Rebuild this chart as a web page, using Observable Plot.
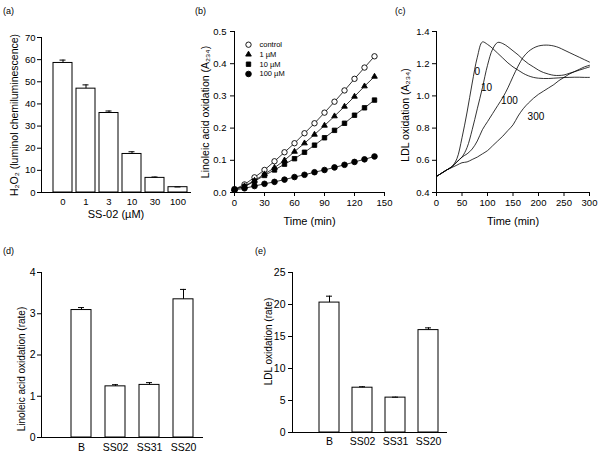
<!DOCTYPE html>
<html><head><meta charset="utf-8">
<script src="https://cdn.jsdelivr.net/npm/d3@7"></script>
<script src="https://cdn.jsdelivr.net/npm/@observablehq/plot@0.6"></script>
<style>
html,body{margin:0;padding:0;background:#fff;}
#fig{position:relative;width:600px;height:454px;overflow:hidden;background:#fff;font-family:"Liberation Sans",Arial,Helvetica,sans-serif;color:#000;}
.tag{position:absolute;font-size:9px;line-height:10px;}
</style></head><body><div id="fig"></div>
<script>
// ---------- (a) H2O2 vs SS-02 ----------
const h2o2Conc = ["0","1","3","10","30","100"];
const h2o2Mean = [58.5, 46.9, 35.9, 17.4, 6.6, 2.4];
const h2o2Sem  = [1.3, 1.7, 0.9, 1.0, 0.4, 0.1];
const h2o2Ticks = [0,10,20,30,40,50,60,70];

// ---------- (b) linoleic acid oxidation time course ----------
const linTime    = [0,10,20,30,40,50,60,70,80,90,100,110,120,130,140];
const linControl = [0.010,0.025,0.047,0.070,0.097,0.125,0.153,0.184,0.215,0.248,0.282,0.317,0.353,0.388,0.423];
const lin1uM     = [0.010,0.020,0.037,0.057,0.077,0.100,0.127,0.153,0.180,0.208,0.237,0.267,0.298,0.330,0.360];
const lin10uM    = [0.010,0.018,0.035,0.053,0.070,0.088,0.105,0.125,0.147,0.170,0.193,0.215,0.240,0.263,0.287];
const lin100uM   = [0.008,0.013,0.020,0.027,0.033,0.040,0.048,0.055,0.063,0.070,0.078,0.086,0.095,0.103,0.112];
const linSeries  = ["control","1 \u00b5M","10 \u00b5M","100 \u00b5M"];
const linXTicks  = [0,30,60,90,120,150];
const linYTicks  = [0,0.1,0.2,0.3,0.4,0.5];

// ---------- (c) LDL oxidation time course ----------
const ldlTime = [0,10,20,30,40,50,60,70,80,90,100,110,120,130,140,150,160,170,180,190,200,210,220,230,240,250,260,270,280,290,300];
const ldl0   = [0.50,0.52,0.54,0.56,0.61,0.74,0.90,1.08,1.24,1.335,1.32,1.295,1.265,1.235,1.205,1.18,1.16,1.14,1.125,1.115,1.11,1.108,1.108,1.11,1.112,1.114,1.115,1.116,1.116,1.115,1.115];
const ldl10  = [0.50,0.52,0.54,0.56,0.59,0.62,0.68,0.79,0.92,1.05,1.19,1.29,1.332,1.325,1.305,1.28,1.255,1.225,1.20,1.18,1.16,1.145,1.135,1.128,1.127,1.13,1.14,1.15,1.16,1.17,1.18];
const ldl100 = [0.50,0.52,0.54,0.56,0.59,0.62,0.64,0.67,0.72,0.79,0.84,0.89,0.94,0.99,1.05,1.12,1.185,1.24,1.275,1.297,1.31,1.315,1.315,1.31,1.30,1.285,1.27,1.255,1.24,1.225,1.21];
const ldl300 = [0.50,0.52,0.54,0.555,0.57,0.585,0.59,0.605,0.62,0.64,0.66,0.69,0.72,0.75,0.785,0.82,0.875,0.92,0.955,0.985,1.01,1.03,1.05,1.07,1.095,1.115,1.135,1.15,1.165,1.18,1.19];
const ldlLabels = ["0","10","100","300"];
const ldlLabelTime = [80, 98, 143, 195];
const ldlLabelValue = [1.148, 1.051, 0.968, 0.869];
const ldlXTicks = [0,50,100,150,200,250,300];
const ldlYTicks = [0.4,0.6,0.8,1.0,1.2,1.4];

// ---------- (d) / (e) oxidation rates ----------
const rateCompounds = ["B","SS02","SS31","SS20"];
const linRateMean = [3.09, 1.24, 1.275, 3.35];
const linRateSem  = [0.06, 0.04, 0.055, 0.24];
const linRateTicks = [0,1,2,3,4];
const ldlRateMean = [20.3, 7.0, 5.45, 16.0];
const ldlRateSem  = [1.0, 0.15, 0.07, 0.35];
const ldlRateTicks = [0,5,10,15,20,25];

const FONT = '"Liberation Sans", Arial, Helvetica, sans-serif';
const fig = document.getElementById("fig");
function place(el, left, top){ el.style.position="absolute"; el.style.left=left+"px"; el.style.top=top+"px"; fig.appendChild(el); }
function tag(text, left, top){ const d=document.createElement("div"); d.className="tag"; d.textContent=text; d.style.left=left+"px"; d.style.top=top+"px"; fig.appendChild(d); }
const baseStyle = {fontFamily: FONT, fontSize: "9.5px", color: "black", background: "transparent", overflow: "visible"};

function barPanel(o){
  const rows = o.cats.map((c,i)=>({cat:c, mean:o.mean[i], sem:o.sem[i]}));
  const marks = [
    Plot.barY(rows, {x:"cat", y:"mean", fill:"white", stroke:"black", strokeWidth:1}),
    Plot.ruleX(rows, {x:"cat", y1:"mean", y2:d=>d.mean+d.sem, stroke:"black", strokeWidth:1}),
    Plot.tickY(rows, {x:"cat", y:d=>d.mean+d.sem, insetLeft:o.capInset, insetRight:o.capInset, stroke:"black", strokeWidth:1}),
    Plot.frame({anchor:"left", stroke:"black"}),
    Plot.frame({anchor:"bottom", stroke:"black"}),
    Plot.axisY({ticks:o.yTicks, tickFormat:"d", tickSize:4, tickPadding:o.yPad, label:null, fontSize:o.tickFont}),
    Plot.axisX({tickSize:0, tickPadding:o.xPad, label:null, fontSize:o.tickFont}),
    Plot.text([o.yLabel], {frameAnchor:"left", dx:o.yLabelDx, dy:o.yLabelDy||0, rotate:-90, textAnchor:"middle", lineAnchor:"middle", fontSize:o.labelFont})
  ];
  if (o.xLabel) marks.push(Plot.text([o.xLabel], {frameAnchor:"bottom", dy:o.xLabelDy, textAnchor:"middle", lineAnchor:"middle", fontSize:11}));
  return Plot.plot({
    width:o.width, height:o.height,
    marginLeft:o.ml, marginRight:o.mr, marginTop:o.mt, marginBottom:o.mb,
    style: baseStyle,
    x:{type:"band", domain:o.cats, range:o.xRange, paddingInner:o.pi, paddingOuter:o.pi/2, label:null},
    y:{domain:o.yDomain, label:null},
    marks
  });
}

// (a)
place(barPanel({cats:h2o2Conc, mean:h2o2Mean, sem:h2o2Sem, width:200, height:225, ml:41, mr:10, mt:37, mb:33,
  xRange:[50,190], pi:0.185, capInset:6.5, yDomain:[0,70], yTicks:h2o2Ticks, yPad:2, xPad:5.5, tickFont:9.5,
  yLabel:"H\u2082O\u2082 (luminol chemiluminescence)", yLabelDx:-27, labelFont:10.5,
  xLabel:"SS-02 (\u00b5M)", xLabelDy:22}), 0, 0);

// (b)
{
  const vals = [linControl, lin1uM, lin10uM, lin100uM];
  const rows = linSeries.flatMap((s,j)=>linTime.map((t,i)=>({series:s, t, v:vals[j][i]})));
  const sym = ["circle","triangle","square","circle"];
  const fills = ["white","black","black","black"];
  const rs = [2.7, 2.1, 2.5, 2.8];
  const legendRows = linSeries.map((s,i)=>({s, i}));
  const marks = [
    Plot.line(rows, {x:"t", y:"v", z:"series", stroke:"black", strokeWidth:0.8})
  ];
  linSeries.forEach((s,j)=>{
    marks.push(Plot.dot(rows.filter(d=>d.series===s), {x:"t", y:"v", symbol:()=>sym[j], fill:fills[j], stroke:"black", strokeWidth:0.9, r:rs[j]}));
    marks.push(Plot.dot([legendRows[j]], {frameAnchor:"left", dx:14, y:d=>0.459-d.i*0.0303, symbol:()=>sym[j], fill:fills[j], stroke:"black", strokeWidth:0.9, r:rs[j]}));
  });
  marks.push(
    Plot.text(legendRows, {frameAnchor:"left", dx:25, y:d=>0.459-d.i*0.0303, text:"s", textAnchor:"start", fontSize:7.5}),
    Plot.frame({anchor:"left", stroke:"black"}),
    Plot.frame({anchor:"bottom", stroke:"black"}),
    Plot.axisY({ticks:linYTicks, tickFormat:".1f", tickSize:4, tickPadding:4, label:null}),
    Plot.axisX({ticks:linXTicks, tickSize:4, tickPadding:3, label:null}),
    Plot.text(["Linoleic acid oxidation (A\u2082\u2083\u2084)"], {frameAnchor:"left", dx:-29, rotate:-90, textAnchor:"middle", lineAnchor:"middle", fontSize:10.5}),
    Plot.text(["Time (min)"], {frameAnchor:"bottom", dy:29, textAnchor:"middle", lineAnchor:"middle", fontSize:11})
  );
  place(Plot.plot({width:200, height:225, marginLeft:39, marginRight:11, marginTop:31, marginBottom:33,
    style: baseStyle, x:{domain:[0,150], label:null}, y:{domain:[0,0.5], label:null}, marks}), 195, 0);
}

// (c)
{
  const curves = [ldl0, ldl10, ldl100, ldl300];
  const rows = ldlLabels.flatMap((lab,j)=>ldlTime.map((t,i)=>({lab, t, v:curves[j][i]})));
  const labRows = ldlLabels.map((lab,i)=>({lab, t:ldlLabelTime[i], v:ldlLabelValue[i]}));
  place(Plot.plot({width:205, height:225, marginLeft:41, marginRight:11, marginTop:31, marginBottom:33,
    style: baseStyle, x:{domain:[0,300], label:null}, y:{domain:[0.4,1.4], label:null},
    marks:[
      Plot.line(rows, {x:"t", y:"v", z:"lab", curve:"catmull-rom", stroke:"black", strokeWidth:0.8}),
      Plot.text(labRows, {x:"t", y:"v", text:"lab", fontSize:10}),
      Plot.frame({anchor:"left", stroke:"black"}),
      Plot.frame({anchor:"bottom", stroke:"black"}),
      Plot.axisY({ticks:ldlYTicks, tickFormat:".1f", tickSize:4, tickPadding:3, label:null}),
      Plot.axisX({ticks:ldlXTicks, tickSize:4, tickPadding:3, label:null}),
      Plot.text(["LDL oxidation (A\u2082\u2083\u2084)"], {frameAnchor:"left", dx:-31, dy:3, rotate:-90, textAnchor:"middle", lineAnchor:"middle", fontSize:10.5}),
      Plot.text(["Time (min)"], {frameAnchor:"bottom", dy:29, textAnchor:"middle", lineAnchor:"middle", fontSize:11})
    ]}), 395, 0);
}

// (d)
place(barPanel({cats:rateCompounds, mean:linRateMean, sem:linRateSem, width:215, height:214, ml:41, mr:13, mt:32, mb:17,
  xRange:[64,200], pi:0.41, capInset:7, yDomain:[0,4], yTicks:linRateTicks, yPad:2, xPad:6, tickFont:10.5,
  yLabel:"Linoleic acid oxidation (rate)", yLabelDx:-20, yLabelDy:14, labelFont:10}), 0, 240);

// (e)
place(barPanel({cats:rateCompounds, mean:ldlRateMean, sem:ldlRateSem, width:210, height:214, ml:42, mr:14, mt:32, mb:22,
  xRange:[311.7-250,445-250], pi:0.4, capInset:7, yDomain:[0,25], yTicks:ldlRateTicks, yPad:3, xPad:5, tickFont:10.5,
  yLabel:"LDL oxidation (rate)", yLabelDx:-24, yLabelDy:-11, labelFont:10}), 250, 240);

tag("(a)", 3, 6); tag("(b)", 195, 6); tag("(c)", 395, 6); tag("(d)", 3, 246); tag("(e)", 255, 246);
</script></body></html>
